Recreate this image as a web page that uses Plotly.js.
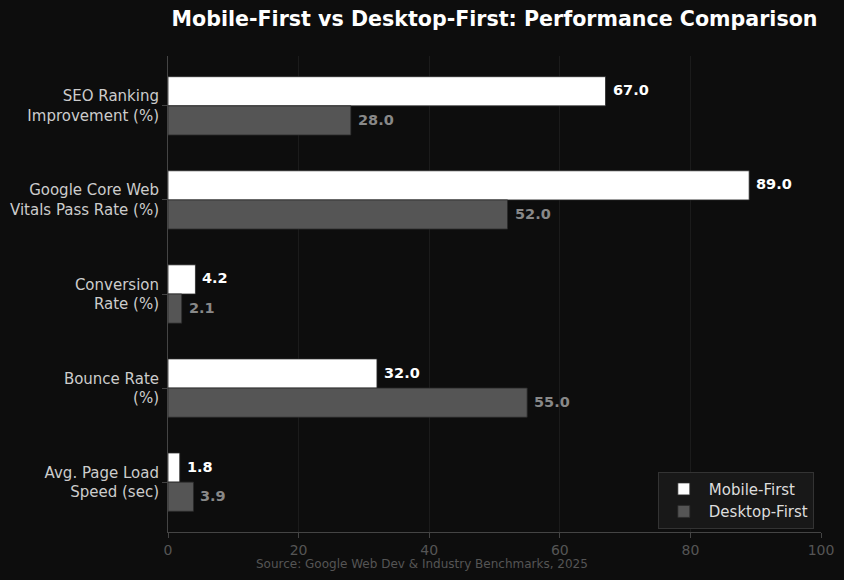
<!DOCTYPE html>
<html>
<head>
<meta charset="utf-8">
<script src="https://cdn.plot.ly/plotly-3.0.1.min.js"></script>
<style>
html,body{margin:0;padding:0;background:#0d0d0d;}
#chart{width:844px;height:580px;}
</style>
</head>
<body>
<div id="chart"></div>
<script>
const categories = [
  "SEO Ranking<br>Improvement (%)",
  "Google Core Web<br>Vitals Pass Rate (%)",
  "Conversion<br>Rate (%)",
  "Bounce Rate<br>(%)",
  "Avg. Page Load<br>Speed (sec)"
];
const mobileFirst = [67.0, 89.0, 4.2, 32.0, 1.8];
const desktopFirst = [28.0, 52.0, 2.1, 55.0, 3.9];
const seriesNames = ["Mobile-First", "Desktop-First"];
const xTicks = [0, 20, 40, 60, 80, 100];

const pos = categories.map((_, i) => i);
const font = "DejaVu Sans, Verdana, sans-serif";

const traces = [
  {
    type: "bar", orientation: "h", name: seriesNames[0],
    x: mobileFirst, y: pos, width: 0.31, offset: -0.31,
    marker: {color: "#ffffff", line: {color: "#2a2a2a", width: 0.8}},
    hoverinfo: "none"
  },
  {
    type: "bar", orientation: "h", name: seriesNames[1],
    x: desktopFirst, y: pos, width: 0.31, offset: 0,
    marker: {color: "#555555", line: {color: "#2a2a2a", width: 0.8}},
    hoverinfo: "none"
  }
];

const annotations = [];
mobileFirst.forEach((v, i) => annotations.push({
  x: v, y: i - 0.165, xref: "x", yref: "y", text: "<b>" + v.toFixed(1) + "</b>",
  showarrow: false, xanchor: "left", yanchor: "middle", xshift: 5,
  font: {family: font, size: 14.5, color: "#ffffff"}
}));
desktopFirst.forEach((v, i) => annotations.push({
  x: v, y: i + 0.15, xref: "x", yref: "y", text: "<b>" + v.toFixed(1) + "</b>",
  showarrow: false, xanchor: "left", yanchor: "middle", xshift: 5,
  font: {family: font, size: 14.5, color: "#888888"}
}));
annotations.push({
  xref: "paper", yref: "paper", x: (421.5 - 168) / 653, y: -0.048,
  text: "Source: Google Web Dev &amp; Industry Benchmarks, 2025",
  showarrow: false, xanchor: "center", yanchor: "top",
  font: {family: font, size: 12, color: "#555555"}
});

const layout = {
  width: 844, height: 580,
  paper_bgcolor: "#0d0d0d", plot_bgcolor: "#0d0d0d",
  margin: {l: 168, r: 23, t: 56, b: 48},
  title: {
    text: "<b>Mobile-First vs Desktop-First: Performance Comparison</b>",
    font: {family: font, size: 20.6, color: "#ffffff"},
    x: 494.5 / 844, xanchor: "center", y: 1 - 19 / 580, yanchor: "middle"
  },
  barmode: "overlay",
  showlegend: true,
  legend: {
    x: 0.989, y: 0.007, xanchor: "right", yanchor: "bottom",
    bgcolor: "#181818", bordercolor: "#333333", borderwidth: 1,
    font: {family: font, size: 15, color: "#dddddd"},
    traceorder: "normal", itemwidth: 40
  },
  xaxis: {
    range: [0, 100], tickvals: xTicks, ticktext: xTicks.map(String),
    showgrid: true, gridcolor: "#1b1b1b", gridwidth: 1,
    zeroline: false, showline: true, linecolor: "#444444", linewidth: 1,
    ticks: "outside", ticklen: 5, tickcolor: "#444444",
    tickfont: {family: font, size: 14, color: "#555555"}
  },
  yaxis: {
    range: [4.53, -0.53], tickvals: pos, ticktext: categories,
    showgrid: false, zeroline: false, showline: true, linecolor: "#444444", linewidth: 1,
    ticks: "outside", ticklen: 5, tickcolor: "#444444",
    tickfont: {family: font, size: 15, color: "#cccccc"}
  },
  annotations: annotations
};

Plotly.newPlot("chart", traces, layout, {displayModeBar: false, staticPlot: true});
</script>
</body>
</html>
